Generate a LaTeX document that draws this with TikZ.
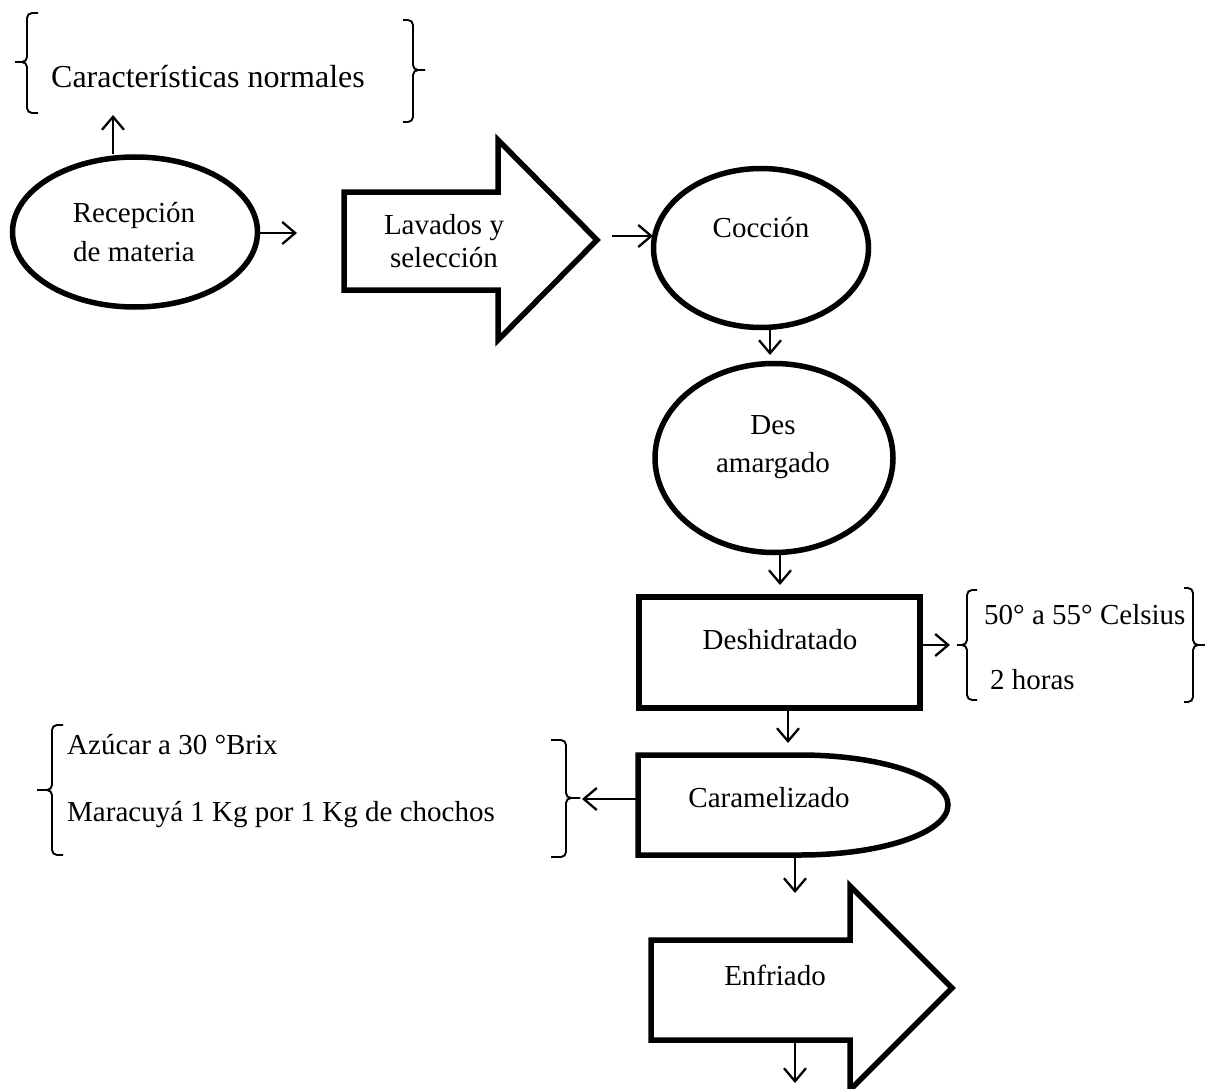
\documentclass[tikz,border=0pt]{standalone}
\usepackage{fontspec}
\setmainfont{Liberation Serif}
\usetikzlibrary{arrows.meta,shapes.geometric}
\begin{document}
\begin{tikzpicture}[x=1pt,y=-1pt,
  conn/.style={line width=2.3pt,-{Straight Barb[length=13pt,width=22pt]}},
  shp/.style={draw, line width=5.5pt, line join=miter, inner sep=0pt},
  brc/.style={line width=1.9pt, rounded corners=5pt},
  txt/.style={font=\fontsize{29}{35}\selectfont, inner sep=0pt, anchor=base},
  txtl/.style={txt, anchor=base west},
  bigtxt/.style={font=\fontsize{32}{38}\selectfont, inner sep=0pt, anchor=base},
  ]
\useasboundingbox (0,0) rectangle (1205,1089);

% ---------- shapes ----------
\node[shp, ellipse, minimum width=245pt, minimum height=150pt] (rec) at (135,232) {};
\node[shp, ellipse, minimum width=215pt, minimum height=159pt] (coc) at (761,248) {};
\node[shp, ellipse, minimum width=238pt, minimum height=189pt] (des) at (774,458) {};
\node[shp, rectangle, minimum width=281pt, minimum height=111pt] (desh) at (779.5,652.5) {};

% Lavados block arrow
\draw[shp] (344,192) -- (498,192) -- (498,140) -- (597,240) -- (498,340) -- (498,290) -- (344,290) -- cycle;
% Caramelizado (delay shape)
\draw[shp] (638,755) -- (800,755) arc[start angle=-90, end angle=90, x radius=148, y radius=50] -- (638,855) -- cycle;
% Enfriado block arrow
\draw[shp] (651,940) -- (850,940) -- (850,886) -- (952,988) -- (850,1090) -- (850,1040) -- (651,1040) -- cycle;

% ---------- texts ----------
\node[bigtxt] (car) at (208,88) {Características normales};
\node[txt] (rec1) at (134,222) {Recepción};
\node[txt] (rec2) at (134,261) {de materia};
\node[txt] (lav1) at (444,234) {Lavados y};
\node[txt] (lav2) at (444,267) {selección};
\node[txt] (coct) at (761,237) {Cocción};
\node[txt] (des1) at (773,434) {Des};
\node[txt] (des2) at (773,472) {amargado};
\node[txt] (desht) at (780,649) {Deshidratado};
\node[txtl] (cel) at (984,624) {50° a 55° Celsius};
\node[txtl] (hor) at (990,689) {2 horas};
\node[txt] (cart) at (769,807) {Caramelizado};
\node[txtl] (azu) at (67,754) {Azúcar a 30 °Brix};
\node[txtl] (mar) at (67,821) {Maracuyá 1 Kg por 1 Kg de chochos};
\node[txt] (enft) at (775,985) {Enfriado};

% ---------- braces ----------
% top
\draw[brc] (38,13) -- (27,13) -- (27,62) -- (15,62);
\draw[brc] (15,62) -- (27,62) -- (27,113) -- (38,113);
\draw[brc] (403,20) -- (413,20) -- (413,70) -- (425,70);
\draw[brc] (425,70) -- (413,70) -- (413,122) -- (403,122);
% Deshidratado
\draw[brc] (977,590) -- (967,590) -- (967,645) -- (957,645);
\draw[brc] (957,645) -- (967,645) -- (967,700) -- (977,700);
\draw[brc] (1184,588) -- (1193,588) -- (1193,645) -- (1205,645);
\draw[brc] (1205,645) -- (1193,645) -- (1193,702) -- (1184,702);
% Caramelizado
\draw[brc] (63,725) -- (52,725) -- (52,790) -- (37,790);
\draw[brc] (37,790) -- (52,790) -- (52,855) -- (63,855);
\draw[brc] (551,740) -- (566,740) -- (566,798) -- (580,798);
\draw[brc] (580,798) -- (566,798) -- (566,857) -- (551,857);

% ---------- connector ends ----------
\coordinate (carin) at (113,115);
\coordinate (lavin) at (297,233);
\coordinate (lavout) at (612,236);
\coordinate (cocin) at (653,236);
\coordinate (desin) at (770,355);
\coordinate (deshin) at (780,585);
\coordinate (celin) at (950,645);
\coordinate (carmin) at (788,743);
\coordinate (marin) at (582,799);
\coordinate (enfin) at (795,893);
\coordinate (enfout) at (795,1083);

% ---------- connectors ----------
\draw[conn] (rec.north -| carin) -- (carin);
\draw[conn] (rec.east |- lavin) -- (lavin);
\draw[conn] (lavout) -- (cocin);
\draw[conn] (coc.south -| desin) -- (desin);
\draw[conn] (des.south -| deshin) -- (deshin);
\draw[conn] (desh.east |- celin) -- (celin);
\draw[conn] (desh.south -| carmin) -- (carmin);
\draw[conn] (638,799) -- (marin);
\draw[conn] (795,855) -- (enfin);
\draw[conn] (795,1040) -- (enfout);
\end{tikzpicture}
\end{document}
